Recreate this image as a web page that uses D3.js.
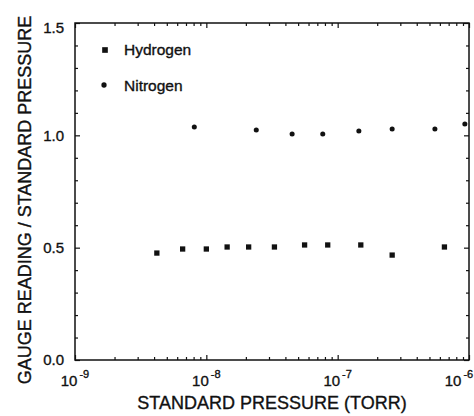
<!DOCTYPE html>
<html>
<head>
<meta charset="utf-8">
<script src="https://cdn.jsdelivr.net/npm/d3@7"></script>
<style>
  body { margin: 0; background: #fff; }
  svg text { font-family: "Liberation Sans", Arial, sans-serif; fill: #111; stroke: #111; stroke-width: 0.35px; }
</style>
</head>
<body>
<div id="chart"></div>
<script>
// Data
const hydrogenPressure = [4.2e-9, 6.6e-9, 1.0e-8, 1.44e-8, 2.1e-8, 3.3e-8, 5.6e-8, 8.4e-8, 1.5e-7, 2.6e-7, 6.5e-7];
const hydrogenRatio = [0.476, 0.494, 0.494, 0.503, 0.503, 0.503, 0.512, 0.512, 0.512, 0.467, 0.503];
const nitrogenPressure = [8.1e-9, 2.4e-8, 4.5e-8, 7.7e-8, 1.45e-7, 2.6e-7, 5.5e-7, 9.3e-7];
const nitrogenRatio = [1.037, 1.024, 1.006, 1.006, 1.019, 1.028, 1.028, 1.05];
const yTickLabels = ["0.0", "0.5", "1.0", "1.5"];
const xTickExponents = [-9, -8, -7, -6];

const W = 474, H = 416;
const plot = { left: 75, right: 469, top: 23, bottom: 360 };

const svg = d3.select("#chart")
  .append("svg")
  .attr("width", W)
  .attr("height", H);

// Scales
const xScale = d3.scaleLog()
  .domain([1e-9, 1e-6])
  .range([plot.left, plot.right]);

const yScale = d3.scaleLinear()
  .domain([0, 1.5])
  .range([plot.bottom, plot.top]);

const yMinor = d3.range(0, 15.01, 1).map(d => d / 10);
const xMinor = xScale.ticks();

function isMajorY(d) { return Math.abs(d * 2 - Math.round(d * 2)) < 1e-6; }
function isMajorX(d) { return Math.abs(Math.log10(d) - Math.round(Math.log10(d))) < 1e-6; }

// Axes: ticks point inward on all four sides
function styleAxis(g) {
  g.select(".domain").remove();
  g.selectAll("line").attr("stroke", "#111").attr("stroke-width", 1.2);
  g.selectAll("text").remove();
}

svg.append("g")
  .attr("transform", `translate(${plot.left},0)`)
  .call(d3.axisLeft(yScale).tickValues(yMinor).tickSize(-3))
  .call(styleAxis)
  .selectAll(".tick line").attr("x2", d => isMajorY(d) ? 5 : 3);

svg.append("g")
  .attr("transform", `translate(${plot.right},0)`)
  .call(d3.axisRight(yScale).tickValues(yMinor).tickSize(-3))
  .call(styleAxis)
  .selectAll(".tick line").attr("x2", d => isMajorY(d) ? -5 : -3);

svg.append("g")
  .attr("transform", `translate(0,${plot.bottom})`)
  .call(d3.axisBottom(xScale).tickValues(xMinor).tickSize(-3))
  .call(styleAxis)
  .selectAll(".tick line").attr("y2", d => isMajorX(d) ? -5 : -3);

svg.append("g")
  .attr("transform", `translate(0,${plot.top})`)
  .call(d3.axisTop(xScale).tickValues(xMinor).tickSize(-3))
  .call(styleAxis)
  .selectAll(".tick line").attr("y2", d => isMajorX(d) ? 5 : 3);

// Frame
svg.append("rect")
  .attr("x", plot.left)
  .attr("y", plot.top)
  .attr("width", plot.right - plot.left)
  .attr("height", plot.bottom - plot.top)
  .attr("fill", "none")
  .attr("stroke", "#111")
  .attr("stroke-width", 1.5);

// Y tick labels (top one sits a little below the frame corner)
svg.selectAll(".ylab")
  .data(yTickLabels)
  .enter()
  .append("text")
  .attr("class", "ylab")
  .attr("x", plot.left - 11)
  .attr("y", d => yScale(+d) + (d === "1.5" ? 5 : 0))
  .attr("dy", "0.35em")
  .attr("text-anchor", "end")
  .style("font-size", "15px")
  .text(d => d);

// X tick labels (10 with superscript exponent)
const xLab = svg.selectAll(".xlab")
  .data(xTickExponents)
  .enter()
  .append("text")
  .attr("class", "xlab")
  .attr("x", d => Math.min(xScale(Math.pow(10, d)), 459))
  .attr("y", plot.bottom + 26)
  .attr("text-anchor", "middle")
  .style("font-size", "15px");

xLab.append("tspan").text("10");
xLab.append("tspan")
  .attr("dy", -8)
  .attr("dx", 2)
  .style("font-size", "11px")
  .text(d => "-" + Math.abs(d));

// Axis titles
svg.append("text")
  .attr("x", (plot.left + plot.right) / 2)
  .attr("y", 409)
  .attr("text-anchor", "middle")
  .style("font-size", "18px")
  .text("STANDARD PRESSURE (TORR)");

svg.append("text")
  .attr("transform", "rotate(-90)")
  .attr("x", -200)
  .attr("y", 31)
  .attr("text-anchor", "middle")
  .style("font-size", "18px")
  .text("GAUGE READING / STANDARD PRESSURE");

// Points
const hydrogen = hydrogenPressure.map((p, i) => ({ p: p, r: hydrogenRatio[i] }));
const nitrogen = nitrogenPressure.map((p, i) => ({ p: p, r: nitrogenRatio[i] }));

const square = d3.symbol().type(d3.symbolSquare).size(28);
const dot = d3.symbol().type(d3.symbolCircle).size(20);

svg.selectAll(".h")
  .data(hydrogen)
  .enter()
  .append("path")
  .attr("class", "h")
  .attr("d", square)
  .attr("fill", "#111")
  .attr("transform", d => `translate(${xScale(d.p)},${yScale(d.r)})`);

svg.selectAll(".n")
  .data(nitrogen)
  .enter()
  .append("path")
  .attr("class", "n")
  .attr("d", dot)
  .attr("fill", "#111")
  .attr("transform", d => `translate(${xScale(d.p)},${yScale(d.r)})`);

// Legend
const legend = svg.append("g");
legend.append("path")
  .attr("d", d3.symbol().type(d3.symbolSquare).size(32))
  .attr("fill", "#111")
  .attr("transform", "translate(105,50)");
legend.append("text")
  .attr("x", 124)
  .attr("y", 55)
  .style("font-size", "15.5px")
  .text("Hydrogen");
legend.append("path")
  .attr("d", d3.symbol().type(d3.symbolCircle).size(22))
  .attr("fill", "#111")
  .attr("transform", "translate(104,85)");
legend.append("text")
  .attr("x", 124)
  .attr("y", 91)
  .style("font-size", "15.5px")
  .text("Nitrogen");
</script>
</body>
</html>
